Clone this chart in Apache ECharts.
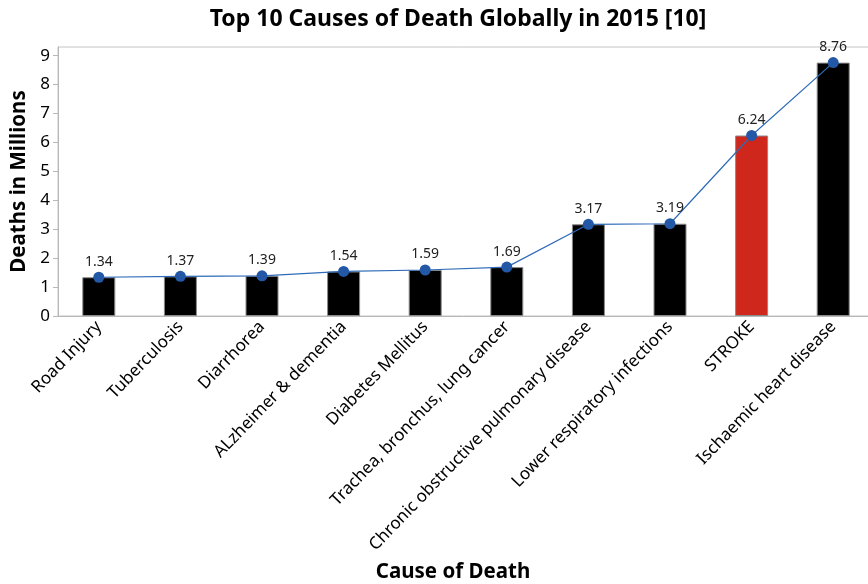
<!DOCTYPE html>
<html>
<head>
<meta charset="utf-8">
<script src="https://cdn.jsdelivr.net/npm/echarts@6/dist/echarts.min.js"></script>
<style>
  html, body { margin: 0; padding: 0; background: #fff; }
  #chart { width: 868px; height: 584px; }
</style>
</head>
<body>
<div id="chart"></div>
<script>
const causes = ['Road Injury', 'Tuberculosis', 'Diarrhorea', 'ALzheimer & dementia', 'Diabetes Mellitus',
  'Trachea, bronchus, lung cancer', 'Chronic obstructive pulmonary disease', 'Lower respiratory infections',
  'STROKE', 'Ischaemic heart disease'];
const deaths = [1.34, 1.37, 1.39, 1.54, 1.59, 1.69, 3.17, 3.19, 6.24, 8.76];
const highlight = 'STROKE';

const font = 'Noto Sans';
const chart = echarts.init(document.getElementById('chart'));

chart.setOption({
  backgroundColor: '#fff',
  animation: false,
  title: {
    text: 'Top 10 Causes of Death Globally in 2015 [10]',
    left: 453, top: 3, textAlign: 'center',
    textStyle: { fontFamily: font, fontSize: 23, fontWeight: 'bold', color: '#000' }
  },
  grid: {
    left: 58, width: 816, top: 47, bottom: 268,
    outerBoundsMode: 'none',
    containLabel: false,
    show: true, borderColor: '#c4c4c4', borderWidth: 1
  },
  xAxis: {
    type: 'category',
    data: causes,
    name: 'Cause of Death',
    nameLocation: 'middle',
    nameGap: 246,
    nameTextStyle: { fontFamily: font, fontSize: 20.5, fontWeight: 'bold', color: '#000', padding: [0, 0, 0, -26] },
    axisLine: { lineStyle: { color: '#b8b8b8' } },
    axisTick: { alignWithLabel: true, length: 5, lineStyle: { color: '#b8b8b8' } },
    axisLabel: { rotate: 46, interval: 0, fontFamily: font, fontSize: 17, color: '#000', margin: 8 }
  },
  yAxis: {
    type: 'value',
    min: 0, max: 9.3, interval: 1,
    name: 'Deaths in Millions',
    nameLocation: 'middle',
    nameGap: 22,
    nameTextStyle: { fontFamily: font, fontSize: 20.5, fontWeight: 'bold', color: '#000' },
    splitLine: { show: false },
    axisLine: { show: true, lineStyle: { color: '#b8b8b8' } },
    axisTick: { show: true, length: 5, lineStyle: { color: '#b8b8b8' } },
    axisLabel: { showMaxLabel: false, fontFamily: font, fontSize: 17, color: '#000', margin: 8 }
  },
  series: [
    {
      type: 'bar',
      data: deaths.map((v, i) => ({
        value: v,
        itemStyle: { color: causes[i] === highlight ? '#d0271d' : '#000' }
      })),
      barWidth: 33,
      itemStyle: { borderColor: '#8a8a8a', borderWidth: 1 }
    },
    {
      type: 'line',
      data: deaths,
      symbol: 'circle',
      symbolSize: 11,
      itemStyle: { color: '#2358a6' },
      lineStyle: { color: '#2f6bb8', width: 1.2 },
      label: {
        show: true, position: 'top', distance: 3,
        fontFamily: font, fontSize: 14, color: '#222',
        formatter: p => p.value.toFixed(2)
      },
      z: 3
    }
  ]
});
</script>
</body>
</html>
